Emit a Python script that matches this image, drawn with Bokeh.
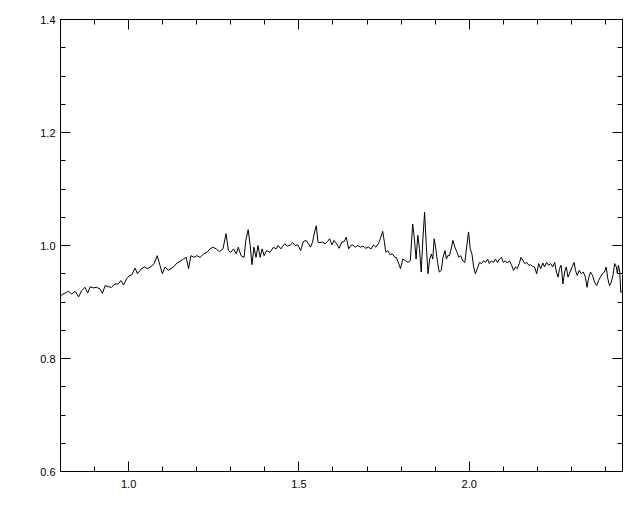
from bokeh.plotting import figure
from bokeh.models import Range1d, LinearAxis, FixedTicker, PrintfTickFormatter, CustomJSTickFormatter
from bokeh.embed import file_html
from bokeh.resources import INLINE

wavelength = [
    0.800, 0.804, 0.814, 0.823, 0.833, 0.843, 0.853, 0.862, 0.872, 0.880,
    0.887, 0.897, 0.906, 0.916, 0.923, 0.931, 0.941, 0.950, 0.960, 0.970,
    0.977, 0.985, 0.994, 1.001, 1.009, 1.019, 1.026, 1.036, 1.046, 1.056,
    1.066, 1.075, 1.084, 1.092, 1.099, 1.107, 1.116, 1.132, 1.142, 1.151,
    1.161, 1.169, 1.176, 1.183, 1.192, 1.200, 1.210, 1.220, 1.230, 1.239,
    1.247, 1.257, 1.267, 1.277, 1.286, 1.293, 1.300, 1.308, 1.316, 1.322,
    1.330, 1.339, 1.344, 1.351, 1.357, 1.362, 1.368, 1.374, 1.380, 1.386,
    1.392, 1.398, 1.405, 1.415, 1.425, 1.433, 1.439, 1.447, 1.458, 1.466,
    1.475, 1.482, 1.489, 1.497, 1.505, 1.513, 1.521, 1.528, 1.534, 1.540,
    1.546, 1.551, 1.556, 1.562, 1.569, 1.577, 1.584, 1.590, 1.597, 1.603,
    1.611, 1.618, 1.626, 1.633, 1.639, 1.646, 1.652, 1.658, 1.665, 1.673,
    1.681, 1.688, 1.696, 1.704, 1.712, 1.719, 1.726, 1.733, 1.739, 1.746,
    1.751, 1.755, 1.761, 1.767, 1.774, 1.782, 1.786, 1.793, 1.798, 1.805,
    1.813, 1.820, 1.827, 1.834, 1.839, 1.844, 1.849, 1.854, 1.859, 1.864,
    1.869, 1.874, 1.879, 1.884, 1.889, 1.893, 1.897, 1.902, 1.907, 1.912,
    1.918, 1.923, 1.929, 1.933, 1.937, 1.942, 1.947, 1.952, 1.958, 1.964,
    1.970, 1.975, 1.981, 1.987, 1.993, 1.998, 2.003, 2.008, 2.013, 2.018,
    2.024, 2.030, 2.036, 2.042, 2.048, 2.054, 2.059, 2.065, 2.071, 2.077,
    2.083, 2.089, 2.095, 2.100, 2.106, 2.112, 2.118, 2.124, 2.130, 2.136,
    2.141, 2.147, 2.152, 2.158, 2.163, 2.169, 2.175, 2.180, 2.186, 2.192,
    2.198, 2.204, 2.210, 2.216, 2.221, 2.227, 2.233, 2.239, 2.245, 2.251,
    2.256, 2.261, 2.265, 2.270, 2.275, 2.280, 2.285, 2.290, 2.296, 2.302,
    2.308, 2.312, 2.317, 2.323, 2.329, 2.335, 2.341, 2.346, 2.350, 2.356,
    2.362, 2.368, 2.374, 2.380, 2.385, 2.391, 2.397, 2.402, 2.407, 2.412,
    2.417, 2.422, 2.427, 2.432, 2.435, 2.438, 2.442, 2.445, 2.450,
]

flux = [
    0.910, 0.913, 0.916, 0.919, 0.914, 0.919, 0.909, 0.920, 0.926, 0.916,
    0.927, 0.925, 0.926, 0.923, 0.915, 0.929, 0.927, 0.926, 0.932, 0.932,
    0.938, 0.930, 0.941, 0.946, 0.948, 0.960, 0.950, 0.958, 0.962, 0.959,
    0.963, 0.968, 0.982, 0.965, 0.950, 0.962, 0.956, 0.962, 0.969, 0.972,
    0.976, 0.979, 0.959, 0.982, 0.979, 0.982, 0.979, 0.985, 0.988, 0.994,
    0.997, 0.994, 0.989, 0.994, 1.021, 0.991, 0.988, 0.994, 0.985, 0.997,
    0.982, 0.979, 1.009, 1.028, 1.000, 0.966, 0.997, 0.979, 1.000, 0.979,
    0.994, 0.982, 0.991, 0.988, 0.997, 0.994, 1.000, 0.994, 1.003, 0.999,
    1.001, 1.005, 1.000, 1.001, 0.991, 1.007, 1.009, 1.003, 0.997, 1.006,
    1.024, 1.035, 1.006, 1.005, 1.006, 1.003, 1.007, 1.012, 1.001, 1.009,
    1.003, 0.995, 1.006, 1.007, 1.015, 0.994, 1.000, 1.001, 0.997, 1.000,
    0.997, 0.999, 0.995, 0.997, 0.994, 1.001, 0.997, 1.003, 1.012, 1.025,
    1.006, 0.988, 0.991, 0.984, 0.985, 0.979, 0.979, 0.968, 0.959, 0.976,
    0.973, 0.970, 0.973, 1.038, 1.012, 0.976, 1.018, 0.994, 0.953, 1.012,
    1.059, 1.000, 0.950, 0.976, 0.985, 0.976, 1.012, 0.994, 0.970, 0.953,
    0.956, 0.979, 0.991, 0.976, 0.982, 0.982, 0.994, 1.009, 0.997, 0.988,
    0.979, 0.982, 0.973, 0.970, 1.000, 1.024, 0.994, 0.985, 0.962, 0.950,
    0.959, 0.970, 0.968, 0.973, 0.970, 0.976, 0.968, 0.973, 0.970, 0.976,
    0.970, 0.976, 0.979, 0.970, 0.973, 0.969, 0.973, 0.966, 0.956, 0.962,
    0.959, 0.968, 0.979, 0.973, 0.968, 0.970, 0.965, 0.966, 0.963, 0.962,
    0.950, 0.968, 0.959, 0.969, 0.962, 0.970, 0.965, 0.968, 0.962, 0.970,
    0.953, 0.944, 0.959, 0.965, 0.932, 0.953, 0.962, 0.944, 0.953, 0.962,
    0.970, 0.956, 0.947, 0.956, 0.950, 0.953, 0.944, 0.926, 0.941, 0.953,
    0.947, 0.935, 0.929, 0.938, 0.944, 0.950, 0.953, 0.962, 0.941, 0.929,
    0.935, 0.947, 0.968, 0.962, 0.950, 0.965, 0.953, 0.917, 0.920,
]

x_start, x_end = 0.8, 2.45
y_start, y_end = 0.6, 1.4
x_major_ticks = [1.0, 1.5, 2.0]
x_minor_ticks = [0.8, 0.9, 1.1, 1.2, 1.3, 1.4, 1.6, 1.7, 1.8, 1.9,
                 2.1, 2.2, 2.3, 2.4]
y_major_ticks = [0.6, 0.8, 1.0, 1.2, 1.4]
y_minor_ticks = [0.65, 0.7, 0.75, 0.85, 0.9, 0.95, 1.05, 1.1, 1.15,
                 1.25, 1.3, 1.35]

FONT = "Liberation Sans"

p = figure(
    frame_width=562, frame_height=452,
    x_range=Range1d(x_start, x_end), y_range=Range1d(y_start, y_end),
    output_backend="svg", toolbar_location=None,
    x_axis_location=None, y_axis_location=None,
    min_border_left=60, min_border_right=10, min_border_top=19, min_border_bottom=33,
    background_fill_color="white", border_fill_color="white",
)
p.outline_line_color = "black"
p.outline_line_width = 1
p.xgrid.visible = False
p.ygrid.visible = False


def style(ax, show_labels):
    ax.major_tick_in = 10
    ax.major_tick_out = 0
    ax.minor_tick_in = 5
    ax.minor_tick_out = 0
    ax.axis_line_color = "black"
    ax.major_tick_line_color = "black"
    ax.minor_tick_line_color = "black"
    ax.major_label_text_font = FONT
    ax.major_label_text_color = "black"
    ax.major_label_text_font_size = "11px"
    if show_labels:
        ax.formatter = PrintfTickFormatter(format="%.1f")
    else:
        ax.formatter = CustomJSTickFormatter(code="return '';")
        ax.major_label_standoff = 0


for loc, show in (("below", True), ("above", False)):
    ax = LinearAxis(ticker=FixedTicker(ticks=x_major_ticks, minor_ticks=x_minor_ticks))
    style(ax, show)
    if show:
        ax.major_label_standoff = 8
    p.add_layout(ax, loc)

for loc, show in (("left", True), ("right", False)):
    ax = LinearAxis(ticker=FixedTicker(ticks=y_major_ticks, minor_ticks=y_minor_ticks))
    style(ax, show)
    if show:
        ax.major_label_standoff = 5
    p.add_layout(ax, loc)

p.line(wavelength, flux, line_color="black", line_width=1)

open("out.html", "w").write(file_html(p, INLINE))
